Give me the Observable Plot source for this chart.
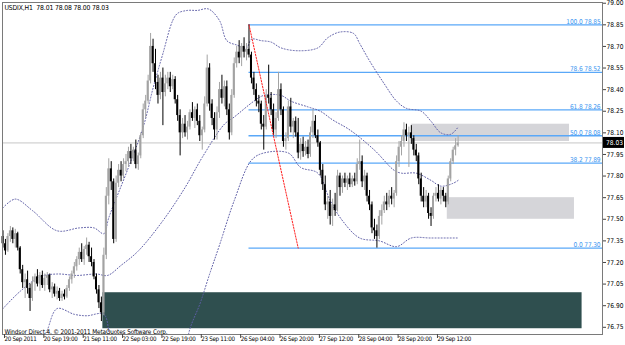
<!DOCTYPE html>
<html><head><meta charset="utf-8">
<script src="https://cdn.jsdelivr.net/npm/d3@7"></script>
<script src="https://cdn.jsdelivr.net/npm/@observablehq/plot@0.6"></script>
<style>
html,body{margin:0;padding:0;background:#fff;}
#chart{width:625px;height:345px;overflow:hidden;}
</style></head><body><div id="chart"></div>
<script>
// ---- data (hourly bars, index 0 = 20 Sep 2011 00:00) ----
const symbol = "USDIX,H1";
const opens = [77.38,77.33,77.28,77.38,77.42,77.36,77.40,77.30,77.15,77.06,
77.08,77.02,76.95,77.06,77.10,77.05,77.11,77.04,77.09,77.11,
77.01,77.03,76.98,77.00,76.95,76.98,76.96,77.02,77.08,77.12,
77.17,77.22,77.27,77.22,77.29,77.32,77.24,77.20,77.10,77.01,
76.92,76.85,77.25,77.66,77.85,77.76,77.36,77.75,77.84,77.80,
77.88,77.90,77.97,77.92,77.98,77.88,77.94,78.08,78.26,78.32,
78.46,78.70,78.58,78.45,78.36,78.48,78.38,78.44,78.48,78.42,
78.47,78.33,78.22,78.10,78.16,78.10,78.14,78.24,78.20,78.26,
78.18,78.08,78.12,78.30,78.55,78.30,78.20,78.12,78.24,78.40,
78.34,78.42,78.26,78.10,78.36,78.58,78.66,78.62,78.70,78.66,
78.68,78.64,78.48,78.40,78.32,78.30,78.16,78.14,78.36,78.34,
78.26,78.12,78.20,78.40,78.26,78.04,78.06,78.28,78.14,78.18,
78.10,77.96,78.02,77.97,78.00,77.95,78.10,78.18,78.08,78.03,
77.84,77.74,77.60,77.62,77.52,77.60,77.56,77.80,77.72,77.78,
77.75,77.78,77.74,77.78,77.76,77.88,77.90,77.76,77.80,77.66,
77.60,77.44,77.42,77.38,77.52,77.56,77.62,77.60,77.66,77.64,
77.68,77.90,78.00,78.04,78.12,78.08,78.10,78.06,77.98,77.94,
77.78,77.66,77.62,77.66,77.54,77.52,77.66,77.68,77.64,77.70,
77.66,77.62,77.78,77.90,77.98,78.01];
const highs = [77.42,77.36,77.40,77.45,77.44,77.43,77.41,77.31,77.18,77.12,
77.14,77.05,77.10,77.12,77.15,77.13,77.14,77.12,77.13,77.12,
77.06,77.05,77.03,77.02,77.00,77.01,77.04,77.10,77.14,77.20,
77.24,77.30,77.33,77.31,77.37,77.34,77.30,77.22,77.12,77.04,
76.96,77.30,77.72,77.92,77.90,77.78,77.80,77.88,77.90,77.92,
77.95,78.00,78.02,78.00,78.05,77.96,78.10,78.30,78.36,78.50,
78.79,78.75,78.68,78.50,78.52,78.55,78.50,78.52,78.52,78.50,
78.49,78.36,78.26,78.20,78.22,78.18,78.26,78.31,78.28,78.30,
78.22,78.14,78.35,78.64,78.58,78.33,78.24,78.28,78.45,78.50,
78.46,78.46,78.30,78.40,78.62,78.70,78.74,78.72,78.76,78.72,
78.85,78.66,78.52,78.44,78.36,78.32,78.22,78.40,78.57,78.38,
78.30,78.24,78.52,78.44,78.28,78.10,78.32,78.34,78.20,78.21,
78.20,78.06,78.07,78.04,78.05,78.14,78.26,78.22,78.12,78.04,
77.88,77.80,77.66,77.70,77.64,77.68,77.84,77.82,77.80,77.82,
77.80,77.82,77.80,77.82,77.92,78.05,77.94,77.84,77.82,77.70,
77.62,77.50,77.46,77.56,77.60,77.66,77.68,77.70,77.72,77.70,
77.94,78.04,78.08,78.17,78.16,78.14,78.15,78.08,78.02,77.96,
77.82,77.72,77.70,77.68,77.58,77.68,77.72,77.74,77.72,77.72,
77.68,77.80,77.92,78.00,78.06,78.08];
const lows = [77.30,77.25,77.27,77.34,77.33,77.30,77.28,77.12,77.02,76.95,
76.98,76.86,76.93,77.00,77.03,77.00,77.02,77.00,77.04,76.99,
76.95,76.96,76.94,76.93,76.93,76.94,76.95,77.00,77.05,77.09,
77.14,77.18,77.20,77.18,77.25,77.20,77.17,77.08,76.98,76.88,
76.79,76.83,77.22,77.60,77.70,77.33,77.34,77.72,77.76,77.78,
77.83,77.86,77.88,77.90,77.85,77.84,77.92,78.06,78.20,78.30,
78.44,78.52,78.40,78.30,78.33,78.15,78.35,78.40,78.38,78.40,
78.30,78.18,77.94,78.06,78.07,78.05,78.12,78.18,78.13,78.15,
78.04,77.98,78.10,78.28,78.25,78.15,78.05,78.05,78.20,78.30,
78.28,78.22,78.05,78.08,78.34,78.55,78.58,78.56,78.62,78.60,
78.62,78.44,78.36,78.28,78.24,78.12,77.98,78.12,78.30,78.22,
78.08,78.06,78.18,78.22,78.00,77.98,78.04,78.10,78.06,78.07,
77.92,77.91,77.93,77.94,77.92,77.93,78.06,78.06,78.00,77.80,
77.70,77.56,77.50,77.46,77.45,77.52,77.55,77.66,77.68,77.72,
77.70,77.72,77.72,77.73,77.74,77.84,77.72,77.70,77.62,77.56,
77.40,77.36,77.30,77.36,77.46,77.54,77.56,77.58,77.60,77.58,
77.66,77.86,77.94,78.00,78.04,77.86,78.02,77.94,77.90,77.74,
77.62,77.58,77.58,77.50,77.45,77.50,77.62,77.62,77.60,77.62,
77.58,77.60,77.76,77.88,77.94,78.00];
const closes = [77.33,77.28,77.38,77.42,77.36,77.40,77.30,77.15,77.06,77.08,
77.02,76.95,77.06,77.10,77.05,77.11,77.04,77.09,77.11,77.01,
77.03,76.98,77.00,76.95,76.98,76.96,77.02,77.08,77.12,77.17,
77.22,77.27,77.22,77.29,77.32,77.24,77.20,77.10,77.01,76.92,
76.85,77.25,77.66,77.85,77.76,77.36,77.75,77.84,77.80,77.88,
77.90,77.97,77.92,77.98,77.88,77.94,78.08,78.26,78.32,78.46,
78.70,78.58,78.45,78.36,78.48,78.38,78.44,78.48,78.42,78.47,
78.33,78.22,78.10,78.16,78.10,78.14,78.24,78.20,78.26,78.18,
78.08,78.12,78.30,78.55,78.30,78.20,78.12,78.24,78.40,78.34,
78.42,78.26,78.10,78.36,78.58,78.66,78.62,78.70,78.66,78.68,
78.64,78.48,78.40,78.32,78.30,78.16,78.14,78.36,78.34,78.26,
78.12,78.20,78.40,78.26,78.04,78.06,78.28,78.14,78.18,78.10,
77.96,78.02,77.97,78.00,77.95,78.10,78.18,78.08,78.03,77.84,
77.74,77.60,77.62,77.52,77.60,77.56,77.80,77.72,77.78,77.75,
77.78,77.74,77.78,77.76,77.88,77.90,77.76,77.80,77.66,77.60,
77.44,77.42,77.38,77.52,77.56,77.62,77.60,77.66,77.64,77.68,
77.90,78.00,78.04,78.12,78.08,78.10,78.06,77.98,77.94,77.78,
77.66,77.62,77.66,77.54,77.52,77.66,77.68,77.64,77.70,77.66,
77.62,77.78,77.90,77.98,78.01,78.03];

const timeTickBars = [0,16,32,48,64,80,96,112,128,144,160,176];
const timeTickLabels = ["20 Sep 2011","20 Sep 19:00","21 Sep 11:00","22 Sep 03:00","22 Sep 19:00","23 Sep 11:00",
  "26 Sep 04:00","26 Sep 20:00","27 Sep 12:00","28 Sep 04:00","28 Sep 20:00","29 Sep 12:00"];
const priceTicks = [79.00,78.85,78.70,78.55,78.40,78.25,78.10,77.95,77.80,77.65,77.50,77.35,77.20,77.05,76.90,76.75];

// Fibonacci retracement
const fibLevels = [100.0, 78.6, 61.8, 50.0, 38.2, 0.0];
const fibPrices = [78.85, 78.52, 78.26, 78.08, 77.89, 77.30];
const fibAnchorBars = [100, 120];
const fibAnchorPrices = [78.85, 77.30];

// Bollinger bands (read at selected bars)
const upperBars = [0,5,12,22,31,37,41,43,51,57,61,65,69,71,75,79,83.5,88,91,95,99,101,105,109,113,120,128,132,137,142.5,145,149,155,160,164,170,174,178,182,185];
const upperVals = [77.58,77.64,77.56,77.42,77.44,77.44,77.40,77.51,77.86,78.14,78.41,78.65,78.88,78.93,78.95,78.95,78.96,78.88,78.74,78.71,78.69,78.75,78.74,78.73,78.69,78.67,78.69,78.76,78.80,78.79,78.72,78.60,78.44,78.32,78.27,78.25,78.18,78.10,78.09,78.14];
const middleBars = [0,7,15,22,30,38,42.5,48,55,65,74,81,90,94,102,106,113,117,124,129,134,141,151,159,162,168,174,178,183,185];
const middleVals = [76.88,77.00,77.10,77.12,77.11,77.12,77.11,77.18,77.28,77.49,77.72,77.93,78.16,78.21,78.32,78.36,78.36,78.32,78.28,78.25,78.19,78.12,77.98,77.84,77.82,77.82,77.77,77.73,77.75,77.77];
const lowerBars = [12,16.5,18,22,29,34,41,44,48,55,65,72,76,80,84,88,94,101,106,116,121,128,133,138,145,153,160,166,174,185];
const lowerVals = [76.50,76.68,76.73,76.88,76.84,76.83,76.84,76.66,76.60,76.45,76.33,76.45,76.74,76.91,77.12,77.32,77.63,77.91,77.96,77.96,77.86,77.82,77.63,77.49,77.37,77.35,77.31,77.37,77.37,77.37];

// rectangles (zones)
const zoneBar1 = [166, 180.6, 40.6];
const zoneBar2 = [230.3, 232.3, 235.4];
const zoneTop = [78.16, 77.65, 76.99];
const zoneBottom = [78.04, 77.50, 76.74];
const zoneFill = ["#d5d5d9", "#d5d5d9", "#2f4f4f"];

// ---- build ----
const bars = opens.map((o, i) => ({i, open: o, high: highs[i], low: lows[i], close: closes[i]}));
const last = bars[bars.length - 1];
const upColor = "#a3a3a3", downColor = "#000000";
const col = d => d.close >= d.open ? upColor : downColor;
const band = (xs, vs) => xs.map((x, k) => ({x, y: vs[k]}));
const zones = zoneBar1.map((x1, k) => ({x1, x2: zoneBar2[k], y1: zoneBottom[k], y2: zoneTop[k], fill: zoneFill[k]}));
const fibs = fibLevels.map((l, k) => ({level: l, price: fibPrices[k]}));
const labelMap = new Map(timeTickBars.map((b, k) => [b, timeTickLabels[k]]));
const X0 = -0.2, X1 = 243.7;
const font = "'Liberation Sans Narrow','DejaVu Sans Condensed','Liberation Sans',sans-serif";
const bandStyle = {x: "x", y: "y", stroke: "#5d5da6", strokeWidth: 1, strokeDasharray: "1,2", curve: "catmull-rom", clip: true};

const chart = Plot.plot({
  width: 625, height: 345,
  marginLeft: 2, marginRight: 23, marginTop: 2, marginBottom: 11,
  style: {fontFamily: font, fontSize: "7px", color: "#000", background: "#fff"},
  x: {domain: [X0, X1]},
  y: {domain: [76.70, 79.005]},
  color: {type: "identity"},
  marks: [
    Plot.rect(zones, {x1: "x1", x2: "x2", y1: "y1", y2: "y2", fill: "fill", clip: true}),
    Plot.ruleY([last.close], {stroke: "#c6c6c6", strokeWidth: 1}),
    Plot.ruleY(fibs, {y: "price", x1: fibAnchorBars[0], x2: X1, stroke: "#5aa8f8", strokeWidth: 1.3}),
    Plot.line(band(upperBars, upperVals), bandStyle),
    Plot.line(band(middleBars, middleVals), bandStyle),
    Plot.line(band(lowerBars, lowerVals), bandStyle),
    Plot.ruleX(bars, {x: "i", y1: "low", y2: "high", stroke: col, strokeWidth: 1}),
    Plot.rect(bars, {x1: d => d.i - 0.4, x2: d => d.i + 0.4, y1: "open", y2: "close", fill: col}),
    Plot.line(fibAnchorBars.map((b, k) => ({x: b, y: fibAnchorPrices[k]})), {x: "x", y: "y", stroke: "#ff2020", strokeWidth: 1, strokeDasharray: "1.5,1.5"}),
    Plot.text(fibs, {x: X1, y: "price", text: d => `${d.level.toFixed(1)} ${d.price.toFixed(2)}`, textAnchor: "end", lineAnchor: "bottom", dx: -2, dy: -1, fill: "#3c96f0", fontSize: 6.6}),
    Plot.text([`${symbol}\u00a0\u00a0${last.open.toFixed(2)} ${last.high.toFixed(2)} ${last.low.toFixed(2)} ${last.close.toFixed(2)}`], {frameAnchor: "top-left", dx: 2, dy: 3, lineAnchor: "top", textAnchor: "start", fill: "#000", fontSize: 6.8}),
    Plot.text(["Windsor Direct 4, \u00a9 2001-2011 MetaQuotes Software Corp."], {frameAnchor: "bottom-left", dx: 2, dy: -1, lineAnchor: "bottom", textAnchor: "start", fill: "#000", fontSize: 6.4}),
    Plot.frame({stroke: "#7a7a7a"}),
    Plot.axisX(timeTickBars, {anchor: "bottom", tickSize: 4, tickPadding: -2, tickFormat: d => labelMap.get(d), textAnchor: "start", dx: 1.5, stroke: "#444", fontSize: 6.2, label: null}),
    Plot.axisY(priceTicks, {anchor: "right", tickSize: 3, tickPadding: 1, tickFormat: d => d.toFixed(2), stroke: "#444", fontSize: 6.6, label: null})
  ]
});
document.getElementById("chart").appendChild(chart);

const svg = d3.select(chart);
svg.selectAll("g[aria-label='x-axis tick label'] text").style("letter-spacing", "-0.3px");
svg.selectAll("g[aria-label='text'] text").style("letter-spacing", "-0.15px");

// current price marker on the price axis
const ys = chart.scale("y"), xs = chart.scale("x");
const yy = ys.apply(last.close), xr = xs.apply(X1);
svg.append("rect").attr("x", xr + 1).attr("y", yy - 5.5).attr("width", 21).attr("height", 11).attr("fill", "#000");
svg.append("text").attr("x", xr + 21).attr("y", yy).attr("dy", "0.35em").attr("text-anchor", "end").attr("fill", "#fff")
  .attr("font-size", 6.6).attr("font-family", font).text(last.close.toFixed(2));
</script></body></html>
